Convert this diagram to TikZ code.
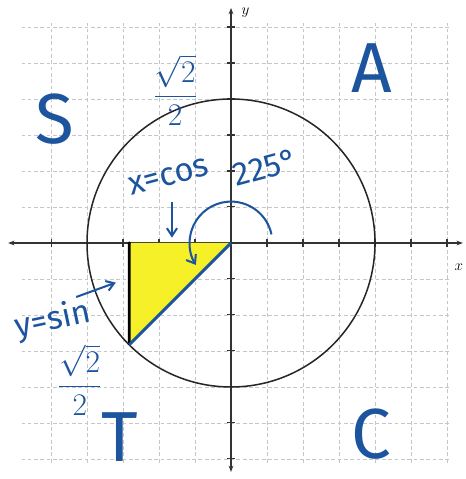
\documentclass[tikz,border=0pt]{standalone}
\usepackage{fontspec}
\setsansfont{Fira Sans}
\usetikzlibrary{arrows.meta}

\definecolor{pen}{RGB}{28,84,158}
\definecolor{hilite}{RGB}{246,240,40}

\tikzset{
  grid line/.style={gray!45, densely dashed, line width=0.5pt},
  axis/.style={black!80, line width=0.9pt, {Stealth[length=5pt]}-{Stealth[length=5pt]}},
  ink/.style={pen, font=\sffamily, inner sep=1pt},
  quadrant/.style={ink, font=\sffamily\fontsize{56}{56}\selectfont},
  note/.style={ink, font=\sffamily\fontsize{26}{26}\selectfont},
  frac/.style={pen, inner sep=1pt, font=\fontsize{24}{24}\selectfont},
  pointer/.style={pen, line width=1.6pt, -{Straight Barb[length=6pt,width=8pt]}},
}

\begin{document}
\begin{tikzpicture}

\useasboundingbox (-6.417,-6.556) rectangle (6.528,6.75);

\coordinate (O) at (0,0);
\coordinate (P) at (225:4);
\coordinate (F) at (-2.828,0);

% grid
\begin{scope}
  \clip (-5.8,-6.2) rectangle (6.1,6.2);
  \foreach \k in {-6,...,6} {
    \draw[grid line] (-6,\k) -- (6.1,\k);
    \draw[grid line] (\k,-6.1) -- (\k,6.1);
  }
\end{scope}

% axes
\draw[axis] (-6.19,0) -- (6.44,0);
\draw[axis] (0,-6.36) -- (0,6.53);
\foreach \k in {-5,...,6}
  \draw[black!80, line width=0.8pt] (\k,-0.12) -- (\k,0.12);
\foreach \k in {-6,...,6}
  \draw[black!80, line width=0.8pt] (-0.12,\k) -- (0.12,\k);
\node (xlab) at (6.33,-0.66) {\itshape\large $x$};
\node (ylab) at (0.4,6.4) {\itshape\large $y$};

% unit circle
\draw[black!85, line width=1.2pt] (O) circle(4);

% triangle
\fill[hilite] (O) -- (F) -- (P) -- cycle;
\draw[black, line width=2.2pt] (F) -- (P);
\draw[pen, line width=2.4pt] (O) -- (P);
\fill (F) circle (1.3pt);

% angle
\draw[pen, line width=1.6pt, -{Straight Barb[length=6pt,width=9pt]}]
  ([shift=(12:1.15)]O) arc[start angle=12, end angle=212, radius=1.15];

% quadrants
\node[quadrant] (S) at (-4.89,3.45) {S};
\node[quadrant] (A) at (3.92,4.85) {A};
\node[quadrant] (T) at (-3.1,-5.4) {T};
\node[quadrant] (C) at (3.9,-5.3) {C};

% labels
\node[frac] (cosval) at (-1.55,4.25) {$\displaystyle\frac{\sqrt{2}}{2}$};
\node[note, rotate=15] (cos) at (-1.72,1.85) {x=cos};
\node[note, rotate=15] (ang) at (0.95,2.1) {225°};
\node[note, rotate=12] (sin) at (-4.95,-2.15) {y=sin};
\node[frac] (sinval) at (-4.2,-3.8) {$\displaystyle\frac{\sqrt{2}}{2}$};

\coordinate (c1) at (-1.64,1.15);
\coordinate (c2) at (-1.64,0.15);
\coordinate (s1) at (-4.3,-1.5);
\coordinate (s2) at (-3.2,-1.1);
\draw[pointer] (c1) -- (c2);
\draw[pointer] (s1) -- (s2);

\end{tikzpicture}
\end{document}
